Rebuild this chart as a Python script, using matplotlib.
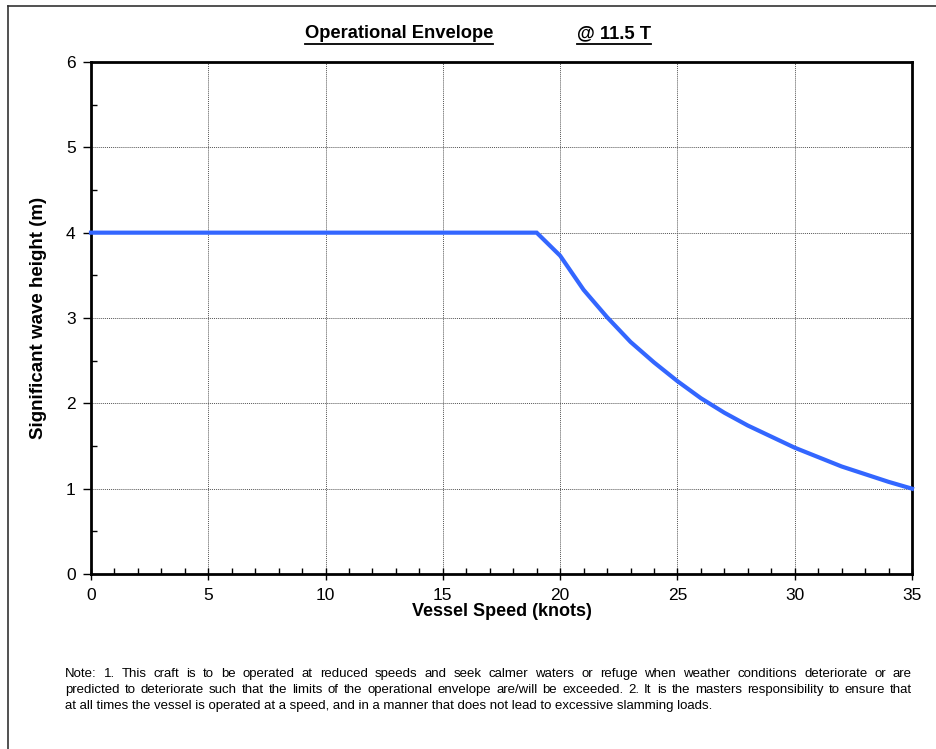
import matplotlib
matplotlib.use("Agg")
import matplotlib.pyplot as plt
from matplotlib.lines import Line2D
from matplotlib.ticker import MultipleLocator

plt.rcParams['font.family'] = ['Liberation Sans', 'DejaVu Sans']

# envelope data
speed = [0, 19, 20, 21, 22, 23, 24, 25, 26, 27, 28, 29, 30, 31, 32, 33, 34, 35]
wave_h = [4.0, 4.0, 3.73, 3.33, 3.01, 2.72, 2.48, 2.26, 2.06, 1.89, 1.74,
          1.61, 1.48, 1.37, 1.26, 1.17, 1.08, 1.0]

note_lines = [
    "Note: 1. This craft is to be operated at reduced speeds and seek calmer waters or refuge when weather conditions deteriorate or are",
    "predicted to deteriorate such that the limits of the operational envelope are/will be exceeded. 2. It is the masters responsibility to ensure that",
    "at all times the vessel is operated at a speed, and in a manner that does not lead to excessive slamming loads.",
]

W, H = 936, 749
fig = plt.figure(figsize=(W / 100, H / 100), dpi=100)
ax = fig.add_axes([91 / W, 1 - 574 / H, (912 - 91) / W, (574 - 62) / H])

ax.plot(speed, wave_h, color='#3366ff', lw=3, solid_joinstyle='miter', clip_on=False, zorder=3)

ax.set_xlim(0, 35)
ax.set_ylim(0, 6)
ax.xaxis.set_major_locator(MultipleLocator(5))
ax.xaxis.set_minor_locator(MultipleLocator(1))
ax.yaxis.set_major_locator(MultipleLocator(1))
ax.yaxis.set_minor_locator(MultipleLocator(0.5))
ax.tick_params(axis='x', which='major', direction='inout', length=8, width=1, labelsize=12.5, pad=6)
ax.tick_params(axis='x', which='minor', direction='in', length=4, width=1)
ax.tick_params(axis='y', which='major', direction='out', length=6, width=1, labelsize=12.5, pad=5)
ax.tick_params(axis='y', which='minor', direction='in', length=4, width=1)
ax.grid(True, which='major', color='#555555', linestyle=(0, (1, 1)), linewidth=0.7)
for s in ax.spines.values():
    s.set_linewidth(2)
    s.set_color('black')

ax.set_xlabel("Vessel Speed (knots)", fontsize=13, fontweight='bold', labelpad=0)
ax.set_ylabel("Significant wave height (m)", fontsize=13.5, fontweight='bold', labelpad=14)

# title pieces, underlined
t1 = fig.text(305 / W, 1 - 34 / H, "Operational Envelope", fontsize=13.2, fontweight='bold',
              ha='left', va='center')
t2 = fig.text(577 / W, 1 - 34 / H, "@ 11.5 T", fontsize=13.2, fontweight='bold',
              ha='left', va='center')

# outer frame (only top and left visible)
fig.add_artist(Line2D([8 / W, 1], [1 - 6 / H, 1 - 6 / H], color='#333333', lw=1.2))
fig.add_artist(Line2D([8 / W, 8 / W], [0, 1 - 6 / H], color='#333333', lw=1.2))

fig.canvas.draw()
r = fig.canvas.get_renderer()
for t in (t1, t2):
    bb = t.get_window_extent(r)
    y = bb.y0 - 1
    fig.add_artist(Line2D([bb.x0 / W, bb.x1 / W], [y / H, y / H], color='black', lw=1.3))

# justified note text
x_left, x_right = 65, 912
ys = [674, 690, 706]
fs = 9.5
for i, (line, yy) in enumerate(zip(note_lines, ys)):
    words = line.split(' ')
    if i == len(note_lines) - 1:
        fig.text(x_left / W, 1 - yy / H, line, fontsize=fs, ha='left', va='center')
        continue
    widths = []
    for w in words:
        tt = fig.text(0, 0, w, fontsize=fs)
        widths.append(tt.get_window_extent(r).width)
        tt.remove()
    gap = (x_right - x_left - sum(widths)) / (len(words) - 1)
    x = x_left
    for w, wd in zip(words, widths):
        fig.text(x / W, 1 - yy / H, w, fontsize=fs, ha='left', va='center')
        x += wd + gap

fig.savefig("out.png", dpi=100)
